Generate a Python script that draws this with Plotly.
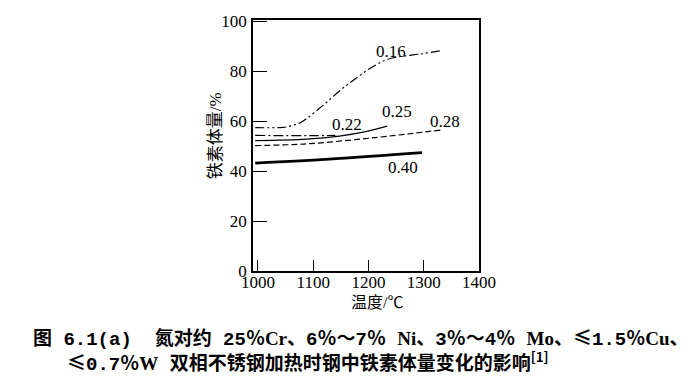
import plotly.graph_objects as go

# Data
temp_016 = [995, 1045, 1058, 1076, 1088, 1117, 1147, 1177, 1207, 1237, 1297, 1330]
fer_016 = [57.4, 57.5, 58.0, 59.3, 61.0, 66.2, 72.0, 77.1, 81.7, 84.9, 87.0, 88.2]

temp_022 = [995, 1050, 1100, 1140]
fer_022 = [54.3, 54.2, 54.2, 54.3]

temp_025 = [995, 1088, 1147, 1195, 1234]
fer_025 = [52.2, 52.8, 54.0, 55.8, 58.0]

temp_028 = [995, 1088, 1207, 1333]
fer_028 = [50.2, 50.9, 53.3, 56.5]

temp_040 = [995, 1135, 1297]
fer_040 = [43.2, 44.9, 47.4]

curve_labels = ["0.16", "0.22", "0.25", "0.28", "0.40"]
label_x = [1240, 1161, 1251, 1338, 1263]
label_y = [87.7, 58.7, 63.9, 60.0, 41.4]

x_ticks = [1000, 1100, 1200, 1300, 1400]
y_ticks = [0, 20, 40, 60, 80, 100]

serif = "Liberation Serif, Times New Roman, serif"
cjk = "Liberation Serif, Noto Sans CJK SC"
cap = "Noto Sans CJK SC"


def m(s):
    return '<span style="font-family:Liberation Mono">' + s + '</span>'


def r(s):
    return '<span style="font-family:Liberation Serif">' + s + '</span>'


caption1 = ("图" + m(" 6.1(a)  ") + "氮对约" + m(" 25") + "％" + r("Cr") + "、" + m("6") + "％～" + m("7")
            + "％" + m(" ") + r("Ni") + "、" + m("3") + "％～" + m("4") + "％" + m(" ") + r("Mo") + "、≤"
            + m("1.5") + "％" + r("Cu") + "、")
caption2 = ("≤" + m("0.7") + "％" + r("W") + m(" ") + "双相不锈钢加热时钢中铁素体量变化的影响"
            + "<sup>[1]</sup>")

fig = go.Figure()
common = dict(mode="lines", line_shape="spline", showlegend=False, hoverinfo="skip")
fig.add_trace(go.Scatter(x=temp_016, y=fer_016, line=dict(color="black", width=1.2, dash="9px,3px,2px,3px,2px,3px"), **common))
fig.add_trace(go.Scatter(x=temp_022, y=fer_022, line=dict(color="black", width=1.2, dash="10px,3px,2px,3px"), **common))
fig.add_trace(go.Scatter(x=temp_025, y=fer_025, line=dict(color="black", width=1.3), **common))
fig.add_trace(go.Scatter(x=temp_028, y=fer_028, line=dict(color="black", width=1.2, dash="6px,3px"), **common))
fig.add_trace(go.Scatter(x=temp_040, y=fer_040, line=dict(color="black", width=2.6), **common))

annotations = []
for t, x, y in zip(curve_labels, label_x, label_y):
    annotations.append(dict(x=x, y=y, xref="x", yref="y", text=t, showarrow=False,
                            xanchor="center", yanchor="middle",
                            font=dict(family=serif, size=17, color="black")))

annotations.append(dict(x=(215 - 253) / 226, y=(271 - 133) / 257, xref="paper", yref="paper",
                        text="铁素体量/%", textangle=-90, showarrow=False,
                        xanchor="center", yanchor="middle",
                        font=dict(family=cjk, size=17, color="black")))
annotations.append(dict(x=(377 - 253) / 226, y=(271 - 303) / 257, xref="paper", yref="paper",
                        text="温度/℃", showarrow=False, xanchor="center", yanchor="middle",
                        font=dict(family=cjk, size=16, color="black")))
annotations.append(dict(x=(31 - 253) / 226, y=(271 - 339) / 257, xref="paper", yref="paper",
                        xanchor="left", yanchor="middle",
                        text=caption1, showarrow=False,
                        font=dict(family=cap, size=19, color="black", weight="bold")))
annotations.append(dict(x=(65 - 253) / 226, y=(271 - 364) / 257, xref="paper", yref="paper",
                        xanchor="left", yanchor="middle",
                        text=caption2, showarrow=False,
                        font=dict(family=cap, size=19, color="black", weight="bold")))

fig.update_layout(
    width=700, height=391,
    margin=dict(l=253, r=221, t=14, b=120),
    paper_bgcolor="white", plot_bgcolor="white",
    annotations=annotations,
    xaxis=dict(range=[991, 1400], tickvals=x_ticks, ticks="inside", ticklen=11, tickwidth=1.3,
               tickcolor="black", showline=True, linecolor="black", linewidth=1.5, mirror=True,
               showgrid=False, zeroline=False, ticklabelstandoff=-5,
               tickfont=dict(family=serif, size=17, color="black")),
    yaxis=dict(range=[0, 100.5], tickvals=y_ticks, ticks="inside", ticklen=14, tickwidth=1.3,
               tickcolor="black", showline=True, linecolor="black", linewidth=1.5, mirror=True,
               showgrid=False, zeroline=False, ticklabelstandoff=1,
               tickfont=dict(family=serif, size=17, color="black")),
)

fig.write_html("out.html", config={"displayModeBar": False},
               post_script="document.body.style.margin='0px';")
